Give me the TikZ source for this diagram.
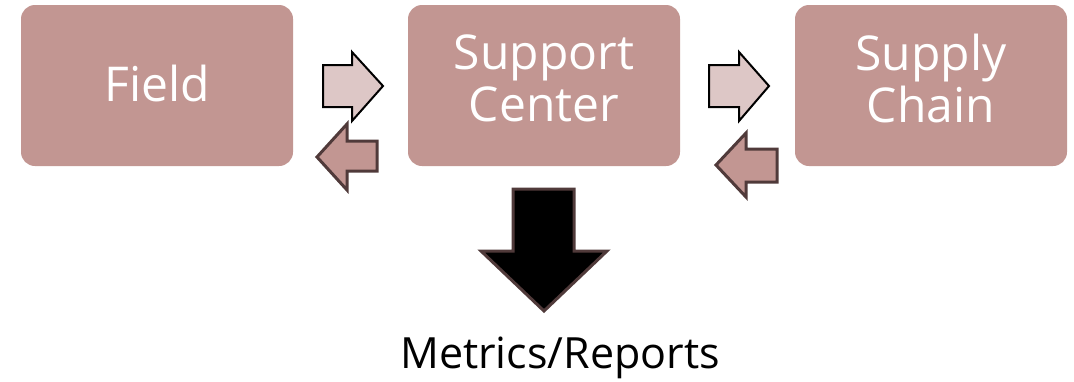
\documentclass[tikz,border=0pt]{standalone}
\usepackage{fontspec}
\setmainfont{Open Sans}
\definecolor{boxrose}{HTML}{C29692}
\definecolor{paleRose}{HTML}{DDC7C6}
\definecolor{darkbrown}{HTML}{503A3A}
\begin{document}
\begin{tikzpicture}[x=1pt,y=-1pt,
  stagebox/.style={rectangle, rounded corners=14pt, fill=boxrose, draw=none,
    minimum width=272pt, minimum height=161pt},
  stagetext/.style={text=white, align=center, inner sep=0pt,
    font=\fontsize{48}{52}\selectfont},
  fwdarrow/.style={fill=paleRose, draw=black, line width=2pt, line join=miter},
  backarrow/.style={fill=boxrose, draw=darkbrown, line width=3pt, line join=miter},
  outarrow/.style={fill=black, draw=darkbrown, line width=3pt, line join=miter}]
\useasboundingbox (0,0) rectangle (1074,381);

% stages
\node[stagebox] (field)   at (157,85.5) {};
\node[stagebox] (support) at (544,85.5) {};
\node[stagebox] (supply)  at (931,85.5) {};
\node[stagetext] (fieldtext)   at ([yshift=2pt]field.center)   {Field};
\node[stagetext] (supporttext) at ([yshift=7pt]support.center) {Support\\Center};
\node[stagetext] (supplytext)  at ([yshift=7pt]supply.center)  {Supply\\Chain};

% forward flow arrows
\draw[fwdarrow] (323,65) -- (352,65) -- (352,52) -- (383,86) -- (352,121)
  -- (352,107) -- (323,107) -- cycle;
\draw[fwdarrow] (709,65) -- (739,65) -- (739,52) -- (769,86) -- (739,121)
  -- (739,107) -- (709,107) -- cycle;

% feedback arrows
\draw[backarrow] (377,141) -- (347,141) -- (347,124) -- (317,157) -- (347,190)
  -- (347,171) -- (377,171) -- cycle;
\draw[backarrow] (777,149) -- (746,149) -- (746,133) -- (716,165) -- (746,197)
  -- (746,182) -- (777,182) -- cycle;

% output to reporting
\draw[outarrow] (513,189) -- (574,189) -- (574,251) -- (607,251) -- (544,311)
  -- (481,251) -- (513,251) -- cycle;
\node[font=\fontsize{43}{48}\selectfont, anchor=base] (metrics) at (560,368) {Metrics/Reports};
\end{tikzpicture}
\end{document}
